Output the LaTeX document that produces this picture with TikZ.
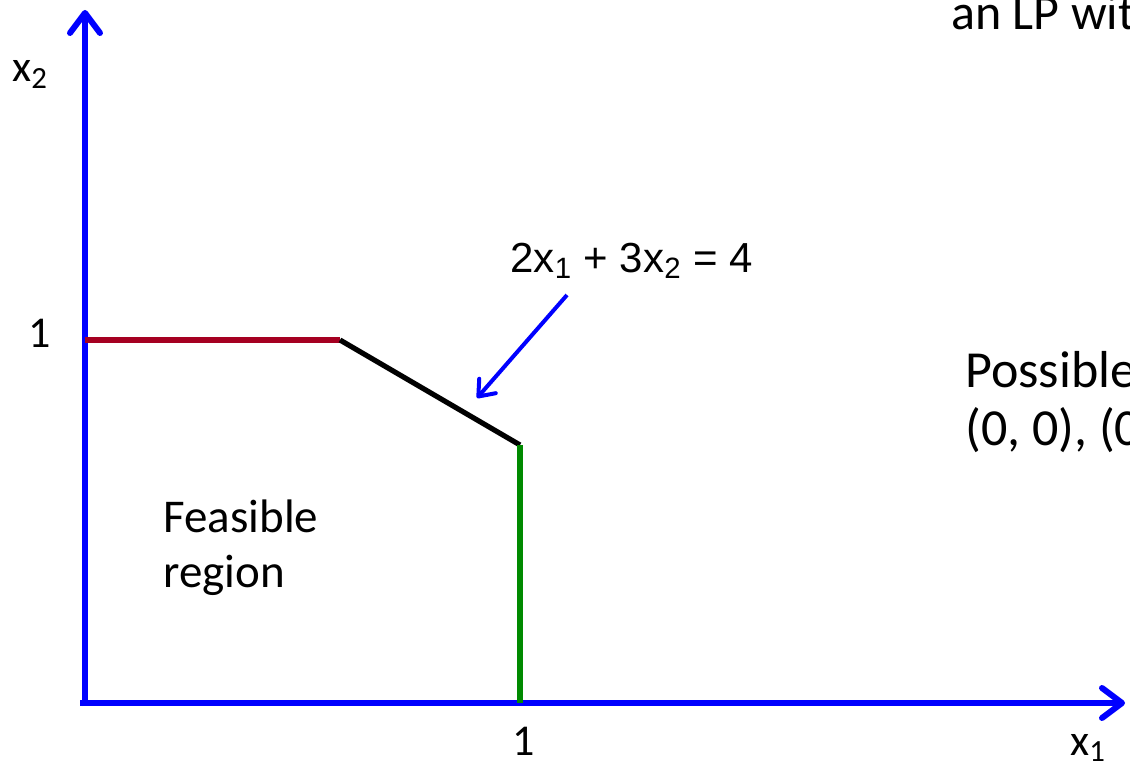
\documentclass[tikz,border=0pt]{standalone}
\usepackage{fontspec}
\setmainfont{Carlito}
\newfontfamily\arialfont{Liberation Sans}
\usetikzlibrary{arrows.meta}

\begin{document}
\begin{tikzpicture}[x=0.5pt,y=-0.5pt,
  axis/.style={draw=blue,line width=3pt,-{Straight Barb[length=10pt,width=15pt,round]}},
  seg/.style={line width=2.6pt},
  ptr/.style={draw=blue,line width=2pt,-{Straight Barb[length=7pt,width=11pt,round]}},
  lbl/.style={inner sep=0pt,anchor=base west,font=\fontsize{22}{26}\selectfont},
  big/.style={inner sep=0pt,anchor=base west,align=left,font=\fontsize{26}{29}\selectfont}]
\useasboundingbox (0,0) rectangle (1130,765);
\clip (0,0) rectangle (1130,765);
\definecolor{lpred}{HTML}{A50021}
\definecolor{lpgreen}{HTML}{008A00}
% corners of the region
\coordinate (O) at (85,703);
\coordinate (A) at (85,340);
\coordinate (B) at (340,340);
\coordinate (C) at (520,445);
\coordinate (D) at (520,703);
\coordinate (ytip) at (85,10);
\coordinate (xtip) at (1125,703);
\coordinate (ptr) at (477,398);
% axes
\draw[axis] (85,706) -- (ytip);
\draw[axis] (80,703) -- (xtip);
% boundary
\draw[seg,lpred] (A) -- (B);
\draw[seg,black] (B) -- (C);
\draw[seg,lpgreen] (C) -- (D);
% labels
\node[lbl] (x2) at (12,82) {x\textsubscript{2}};
\node[lbl] (x1) at (1070,755) {x\textsubscript{1}};
\node[lbl] (one2) at (28,347) {1};
\node[lbl] (one1) at (512,755) {1};
\node[inner sep=0pt,anchor=base west,align=left,font=\fontsize{23.5}{27.5}\selectfont] (feas) at (163,587) {Feasible\\region};
\node[inner sep=0pt,anchor=base west,font=\arialfont\fontsize{21}{25}\selectfont] (eq) at (510,272) {2x\textsubscript{1} + 3x\textsubscript{2} = 4};
\draw[ptr] (567,295) -- (ptr);
\node[inner sep=0pt,anchor=base west,font=\fontsize{25}{29}\selectfont] (title) at (951,30) {an LP wit};
\node[big] (poss) at (965,445) {Possible\\(0, 0), (0};
\end{tikzpicture}
\end{document}
